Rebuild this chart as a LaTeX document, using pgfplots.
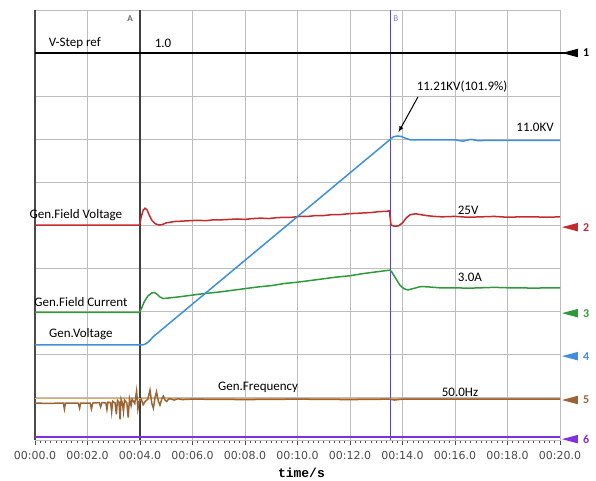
\documentclass[border=0pt]{standalone}
\usepackage{fontspec}
\setmainfont{Carlito}
\newfontfamily\tickfont{DejaVu Sans}
\newfontfamily\monofont{Liberation Mono}
\usepackage{pgfplots}
\pgfplotsset{compat=1.18}
\definecolor{gridgray}{HTML}{BDBDBD}
\definecolor{tickgray}{HTML}{4A4A4A}
\definecolor{cred}{HTML}{C42A2E}
\definecolor{cgreen}{HTML}{2F9A3A}
\definecolor{cblue}{HTML}{3D8FE0}
\definecolor{cbrown}{HTML}{9A6434}
\definecolor{corange}{HTML}{E8A95A}
\definecolor{cpurple}{HTML}{8130E0}
\definecolor{cursB}{HTML}{5648C0}
\pgfdeclareplotmark{flag}{%
  \pgfpathmoveto{\pgfqpoint{-8pt}{0pt}}%
  \pgfpathlineto{\pgfqpoint{8pt}{4.3pt}}%
  \pgfpathlineto{\pgfqpoint{8pt}{-4.3pt}}%
  \pgfpathclose\pgfusepathqfill}
\begin{document}
\begin{tikzpicture}
\useasboundingbox (-35pt,-40pt) rectangle (561pt,440pt);
\begin{axis}[
  at={(0,0)}, anchor=south west,
  scale only axis, width=525pt, height=430pt,
  xmin=0, xmax=20, ymin=0, ymax=10,
  clip=false,
  axis line style={draw=gridgray, line width=0.8pt},
  xtick={0,2,...,20},
  xticklabels={00:00.0,00:02.0,00:04.0,00:06.0,00:08.0,00:10.0,00:12.0,00:14.0,00:16.0,00:18.0,00:20.0},
  minor x tick num=9,
  xtick pos=bottom, tick align=outside,
  major tick length=5pt, minor tick length=3pt,
  x tick style={tickgray, line width=0.6pt},
  xmajorgrids,
  ytick=\empty,
  grid style={gridgray, line width=0.8pt},
  xticklabel style={font=\tickfont\fontsize{11}{12}\selectfont, text=tickgray, yshift=-3pt},
]
% horizontal grid
\pgfplotsinvokeforeach{1,...,9}{\addplot[gridgray, line width=0.8pt, forget plot] coordinates {(0,#1) (20,#1)};}
% left border
\addplot[tickgray, line width=1.4pt] coordinates {(0,0) (0,10)};
% cursor A
\addplot[black!75, line width=1.4pt] coordinates {(4,0) (4,10)};
% cursor B
\addplot[cursB, line width=0.9pt] coordinates {(13.55,0) (13.55,10)};
% V-Step ref
\addplot[black, line width=1.8pt] coordinates {(0,9.0) (20.2,9.0)};
% Gen.Field Voltage
\addplot[cred, line width=1.5pt] coordinates {
(0,5.0) (3.98,5.0) (4.05,5.2) (4.12,5.34) (4.19,5.39) (4.27,5.35) (4.36,5.22) (4.46,5.1)
(4.58,5.03) (4.72,5.0) (4.85,5.01) (5.0,5.05) (5.3,5.08) (5.6,5.09) (5.9,5.1) (6.2,5.11)
(6.5,5.1) (6.8,5.12) (7.1,5.12) (7.4,5.13) (7.7,5.14) (8.0,5.13) (8.3,5.15) (8.6,5.16)
(8.9,5.15) (9.2,5.17) (9.5,5.18) (9.8,5.18) (10.1,5.2) (10.4,5.2) (10.7,5.22) (11.0,5.22)
(11.3,5.24) (11.6,5.24) (11.9,5.26) (12.2,5.27) (12.5,5.28) (12.8,5.29) (13.1,5.31) (13.4,5.32)
(13.5,5.33) (13.56,5.0) (13.7,4.97) (13.85,4.98) (14.0,5.05) (14.15,5.17) (14.3,5.24) (14.5,5.26)
(14.7,5.24) (14.9,5.22) (15.2,5.2) (15.5,5.19) (16,5.2) (16.5,5.18) (17,5.19) (17.5,5.2)
(18,5.18) (18.5,5.19) (19,5.19) (19.5,5.18) (20,5.19)};
% Gen.Field Current
\addplot[cgreen, line width=1.5pt] coordinates {
(0,2.97) (3.97,2.97) (4.05,3.05) (4.15,3.2) (4.3,3.35) (4.45,3.42) (4.55,3.43) (4.65,3.39)
(4.75,3.33) (4.88,3.29) (5.05,3.3) (5.2,3.31) (5.5,3.33) (6.0,3.37) (6.5,3.41) (7.0,3.44)
(7.5,3.48) (8.0,3.52) (8.5,3.56) (9.0,3.59) (9.5,3.64) (10.0,3.67) (10.5,3.71) (11.0,3.75)
(11.5,3.79) (12.0,3.82) (12.5,3.87) (13.0,3.91) (13.52,3.95) (13.6,3.9) (13.75,3.75) (13.9,3.6)
(14.05,3.52) (14.2,3.49) (14.4,3.52) (14.7,3.57) (15.0,3.56) (15.4,3.54) (16,3.54) (16.5,3.53)
(17,3.54) (17.5,3.55) (18,3.54) (18.5,3.54) (19,3.53) (19.5,3.54) (20,3.54)};
% Gen.Voltage
\addplot[cblue, line width=1.5pt] coordinates {
(0,2.21) (4.1,2.21) (4.2,2.23) (4.3,2.27) (4.4,2.33) (4.5,2.40) (13.55,7.0) (13.65,7.05)
(13.8,7.07) (13.95,7.06) (14.1,7.02) (14.3,6.98) (16,6.98) (16.3,6.95) (16.6,6.99) (16.9,6.96)
(17.2,6.97) (20,6.97)};
% Gen.Frequency
\addplot[corange, line width=1.2pt] coordinates {(0,0.97) (20,0.97)};
\addplot[cbrown, line width=1.5pt] coordinates {
(0,0.86) (0.5,0.85) (1.0,0.86) (1.08,0.86) (1.12,0.72) (1.16,0.86) (1.65,0.86) (1.7,0.74)
(1.74,0.86) (2.1,0.86) (2.15,0.72) (2.2,0.86) (2.45,0.87) (2.5,0.77) (2.55,0.87) (2.7,0.86)
(2.74,0.71) (2.78,0.88) (2.88,0.87) (2.92,0.65) (2.96,0.9) (3.05,0.86) (3.1,0.6) (3.14,0.92)
(3.2,0.88) (3.24,0.48) (3.28,0.95) (3.33,0.85) (3.37,0.66) (3.41,0.93) (3.5,0.86) (3.55,0.52)
(3.6,0.96) (3.66,0.8) (3.7,0.95) (3.8,0.85) (3.87,1.14) (3.92,0.72) (3.97,0.9) (4.05,0.95)
(4.12,0.82) (4.2,0.9) (4.3,0.95) (4.38,1.16) (4.45,0.85) (4.51,0.74) (4.57,0.98) (4.63,1.12)
(4.7,0.9) (4.76,0.81) (4.83,0.95) (4.89,1.02) (4.96,0.92) (5.02,0.9) (5.1,0.96) (5.2,0.95)
(5.3,0.93) (5.45,0.96) (5.6,0.94) (6.0,0.95) (8,0.94) (10,0.95) (12,0.94) (13.5,0.95)
(13.7,0.93) (14,0.95) (20,0.95)};
% purple channel 6
\addplot[cpurple, line width=2pt] coordinates {(0,0.07) (20,0.07)};
% channel markers
\addplot[black, mark=flag, only marks] coordinates {(20.38,9.0)};
\addplot[cred, mark=flag, only marks] coordinates {(20.38,4.95)};
\addplot[cgreen, mark=flag, only marks] coordinates {(20.38,2.95)};
\addplot[cblue, mark=flag, only marks] coordinates {(20.38,1.95)};
\addplot[cbrown, mark=flag, only marks] coordinates {(20.38,0.93)};
\addplot[cpurple, mark=flag, only marks] coordinates {(20.38,0.02)};
\node[anchor=west, font=\bfseries\fontsize{12}{12}\selectfont, text=black] at (axis cs:20.75,9.0) {1};
\node[anchor=west, font=\bfseries\fontsize{12}{12}\selectfont, text=cred] at (axis cs:20.75,4.95) {2};
\node[anchor=west, font=\bfseries\fontsize{12}{12}\selectfont, text=cgreen] at (axis cs:20.75,2.95) {3};
\node[anchor=west, font=\bfseries\fontsize{12}{12}\selectfont, text=cblue] at (axis cs:20.75,1.95) {4};
\node[anchor=west, font=\bfseries\fontsize{12}{12}\selectfont, text=cbrown] at (axis cs:20.75,0.93) {5};
\node[anchor=west, font=\bfseries\fontsize{12}{12}\selectfont, text=cpurple] at (axis cs:20.75,0.02) {6};
% texts
\node[font=\fontsize{13}{14}\selectfont] at (axis cs:1.52,9.23) {V-Step ref};
\node[font=\fontsize{13}{14}\selectfont] at (axis cs:4.88,9.23) {1.0};
\node[font=\bfseries\fontsize{9}{10}\selectfont, text=black!60] at (axis cs:3.62,9.81) {A};
\node[font=\fontsize{9}{10}\selectfont, text=cursB!70] at (axis cs:13.75,9.81) {B};
\node[font=\fontsize{13}{14}\selectfont] at (axis cs:16.27,8.21) {11.21KV(101.9\%)};
\draw[-latex, black, line width=1pt] (axis cs:14.59,7.98) -- (axis cs:13.85,7.16);
\node[font=\fontsize{13}{14}\selectfont] at (axis cs:19.05,7.26) {11.0KV};
\node[font=\fontsize{13}{14}\selectfont] at (axis cs:1.56,5.23) {Gen.Field Voltage};
\node[font=\fontsize{13}{14}\selectfont] at (axis cs:16.5,5.35) {25V};
\node[font=\fontsize{13}{14}\selectfont] at (axis cs:1.75,3.21) {Gen.Field Current};
\node[font=\fontsize{13}{14}\selectfont] at (axis cs:16.57,3.79) {3.0A};
\node[font=\fontsize{13}{14}\selectfont] at (axis cs:1.75,2.47) {Gen.Voltage};
\node[font=\fontsize{13}{14}\selectfont] at (axis cs:8.5,1.23) {Gen.Frequency};
\node[font=\fontsize{13}{14}\selectfont] at (axis cs:16.19,1.12) {50.0Hz};
\node[font=\monofont\bfseries\fontsize{13}{14}\selectfont] at (axis cs:10.15,0) [yshift=-33pt] {time/s};
\end{axis}
\end{tikzpicture}
\end{document}
